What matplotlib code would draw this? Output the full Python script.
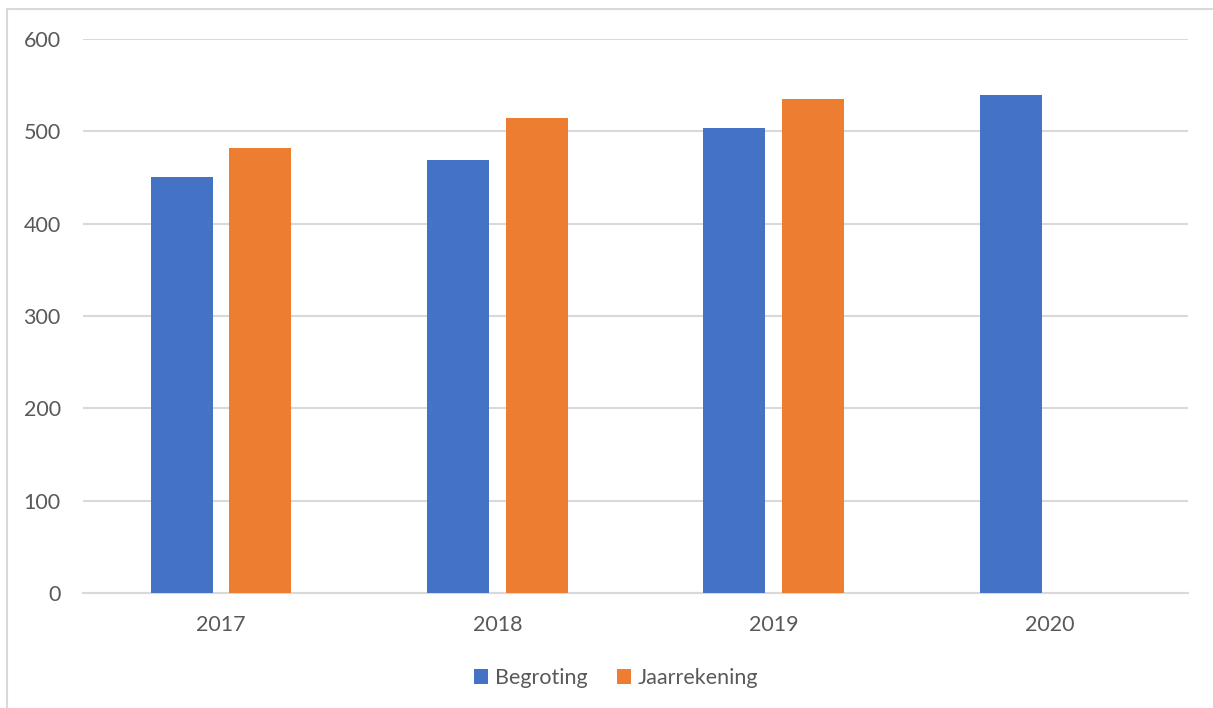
import matplotlib.pyplot as plt
import matplotlib.patches as mpatches
import numpy as np

# --- DATA ---
years = ["2017", "2018", "2019", "2020"]
begroting = [451, 469, 504, 539]
jaarrekening = [482, 514, 535, np.nan]

BLUE = "#4472C4"
ORANGE = "#ED7D31"
TEXT = "#595959"
GRID = "#D9D9D9"

plt.rcParams['font.family'] = ['Lato', 'DejaVu Sans']

fig = plt.figure(figsize=(12.13, 7.08), dpi=100)
ax = fig.add_axes([83 / 1213, 1 - 593 / 708, 1105 / 1213, 554 / 708])

# chart border (cut off at right and bottom like the source)
fig.patches.append(mpatches.Rectangle((7 / 1213, -0.05), 1.2, 1 - 9 / 708 + 0.05,
                                      transform=fig.transFigure, fill=False,
                                      edgecolor=GRID, linewidth=1.5))

x = np.arange(len(years))
w = 0.225
off = 0.142
ax.bar(x - off, begroting, w, color=BLUE, label="Begroting", zorder=3)
ax.bar(x + off, jaarrekening, w, color=ORANGE, label="Jaarrekening", zorder=3)

ax.set_xlim(-0.5, 3.5)
ax.set_ylim(0, 600)
ax.set_yticks(range(0, 601, 100))
ax.set_xticks(x)
ax.set_xticklabels(years)

ax.grid(axis='y', color=GRID, linewidth=1.5, zorder=0)
for s in ['top', 'right', 'left']:
    ax.spines[s].set_visible(False)
ax.spines['bottom'].set_color(GRID)
ax.spines['bottom'].set_linewidth(1.5)
ax.tick_params(axis='both', length=0, labelsize=15.5, labelcolor=TEXT)
ax.tick_params(axis='x', pad=16)
ax.tick_params(axis='y', pad=16)

fig.legend(loc='center', bbox_to_anchor=(0.508, 1 - 678 / 708), ncol=2, frameon=False,
           fontsize=15.5, labelcolor=TEXT, handlelength=0.65, handleheight=0.65,
           handletextpad=0.3, columnspacing=1.4)

plt.savefig('out.png', dpi=100)
